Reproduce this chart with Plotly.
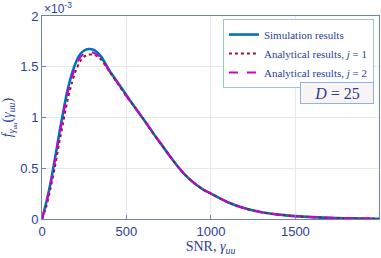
import plotly.graph_objects as go

# SNR grid
snr = [0, 25, 50, 75, 100, 125, 150, 175, 200, 225, 250, 275, 300, 325, 350,
       400, 450, 500, 550, 600, 650, 700, 750, 800, 850, 900, 950, 1000,
       1100, 1200, 1300, 1400, 1500, 1600, 1700, 1800, 1900, 2000]

# PDF values in units of 1e-3
sim = [0, 0.16, 0.35, 0.58, 0.82, 1.05, 1.26, 1.42, 1.54, 1.62, 1.66, 1.675, 1.67, 1.645, 1.60,
       1.46, 1.34, 1.22, 1.10, 0.985, 0.865, 0.75, 0.635, 0.525, 0.43, 0.355, 0.295, 0.25,
       0.165, 0.105, 0.066, 0.043, 0.028, 0.018, 0.012, 0.008, 0.005, 0.003]
ana_j1 = [0, 0.12, 0.30, 0.50, 0.73, 0.95, 1.16, 1.33, 1.46, 1.55, 1.60, 1.62, 1.62, 1.605, 1.57,
          1.45, 1.33, 1.21, 1.10, 0.985, 0.865, 0.75, 0.635, 0.525, 0.43, 0.355, 0.295, 0.25,
          0.165, 0.105, 0.066, 0.043, 0.028, 0.018, 0.012, 0.008, 0.005, 0.003]
ana_j2 = [0, 0.15, 0.34, 0.56, 0.80, 1.02, 1.23, 1.39, 1.51, 1.59, 1.63, 1.645, 1.64, 1.62, 1.585,
          1.455, 1.335, 1.21, 1.10, 0.985, 0.865, 0.75, 0.635, 0.525, 0.43, 0.355, 0.295, 0.25,
          0.165, 0.105, 0.066, 0.043, 0.028, 0.018, 0.012, 0.008, 0.005, 0.003]

xticks = [0, 500, 1000, 1500]
yticks = [0, 0.5, 1, 1.5, 2]
ytick_labels = ["0", "0.5", "1", "1.5", "2"]

TXT = "#2b3d9c"
AX = "#6f7fc4"
GRID = "#e6e8f0"
SERIF = "Liberation Serif, DejaVu Serif, serif"
SANS = "Liberation Sans, Arial, sans-serif"

fig = go.Figure()
fig.add_trace(go.Scatter(x=snr, y=sim, mode="lines", name="Simulation results",
                         line=dict(color="#0072BD", width=2.6, shape="spline", smoothing=0.8)))
fig.add_trace(go.Scatter(x=snr, y=ana_j1, mode="lines", name="Analytical results, <i>j</i> = 1",
                         line=dict(color="#A2142F", width=2, dash="dot", shape="spline", smoothing=0.8)))
fig.add_trace(go.Scatter(x=snr, y=ana_j2, mode="lines", name="Analytical results, <i>j</i> = 2",
                         line=dict(color="#CC00CC", width=2, dash="dash", shape="spline", smoothing=0.8)))

fig.update_layout(
    width=381, height=258,
    margin=dict(l=42, r=2, t=16, b=39, autoexpand=False),
    paper_bgcolor="white", plot_bgcolor="white",
    showlegend=True,
    legend=dict(x=0.985, y=0.985, xanchor="right", yanchor="top",
                bgcolor="white", bordercolor="#9cc3e6", borderwidth=1,
                font=dict(family=SERIF, size=11, color=TXT),
                tracegroupgap=0, itemwidth=30),
    xaxis=dict(range=[0, 1995], tickvals=xticks, showgrid=True, gridcolor=GRID,
               zeroline=False, showline=True, linecolor=AX, mirror=True,
               ticks="inside", ticklen=4, tickcolor=AX, automargin=False,
               tickfont=dict(family=SANS, size=13, color=TXT),
               title=dict(text="SNR, <i>γ<sub>uu</sub></i>", standoff=2,
                          font=dict(family=SERIF, size=14, color=TXT))),
    yaxis=dict(range=[0, 2], tickvals=yticks, ticktext=ytick_labels, showgrid=True,
               gridcolor=GRID, zeroline=False, showline=True, linecolor=AX, mirror=True,
               ticks="inside", ticklen=4, tickcolor=AX, automargin=False,
               tickfont=dict(family=SANS, size=13, color=TXT),
               title=dict(text="<i>f</i><sub><i>γ<sub>uu</sub></i></sub>(<i>γ<sub>uu</sub></i>)",
                          standoff=4, font=dict(family=SERIF, size=14, color=TXT))),
)

fig.add_annotation(x=0, y=1.0, xref="paper", yref="paper", xanchor="left", yanchor="bottom",
                   text="×10<sup>-3</sup>", showarrow=False,
                   font=dict(family=SANS, size=12, color=TXT), xshift=0, yshift=-2)

fig.add_annotation(x=0.985, y=0.62, xref="paper", yref="paper", xanchor="right", yanchor="middle",
                   text="<i>D</i> = 25", showarrow=False, width=70, height=18,
                   bgcolor="#f8f4f4", bordercolor="#8fb3e0", borderwidth=1, borderpad=1,
                   font=dict(family=SERIF, size=16, color=TXT))

fig.write_html("out.html", config={"displayModeBar": False},
               post_script="document.body.style.margin='0';document.body.style.padding='0';")
